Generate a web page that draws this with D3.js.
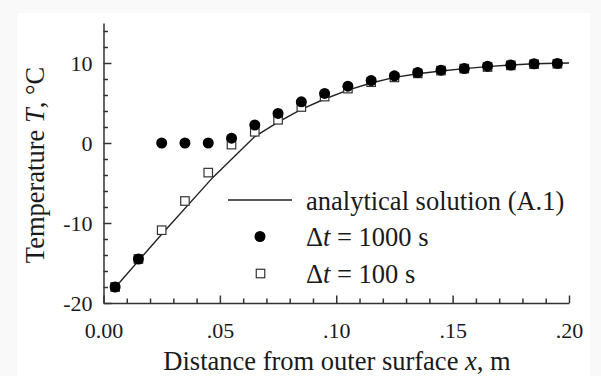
<!DOCTYPE html>
<html>
<head>
<meta charset="utf-8">
<script src="https://cdn.jsdelivr.net/npm/d3@7"></script>
<style>
  html, body { margin: 0; padding: 0; background: #f9f9f9; }
  svg { display: block; }
  text { font-family: "Liberation Serif", "Times New Roman", serif; fill: #1a1a1a; }
</style>
</head>
<body>
<svg id="chart"></svg>
<script>
// Sample positions (m)
const depths = [0.005, 0.015, 0.025, 0.035, 0.045, 0.055, 0.065, 0.075, 0.085, 0.095,
                0.105, 0.115, 0.125, 0.135, 0.145, 0.155, 0.165, 0.175, 0.185, 0.195];

// Δt = 1000 s (filled circles)
const temps1000 = [-18.0, -14.5, 0.0, 0.0, 0.0, 0.6, 2.25, 3.7, 5.15, 6.2,
                   7.1, 7.8, 8.4, 8.8, 9.1, 9.3, 9.6, 9.75, 9.9, 9.95];

// Δt = 100 s (open squares)
const temps100 = [-18.0, -14.5, -10.9, -7.25, -3.7, -0.2, 1.4, 2.9, 4.5, 5.8,
                  6.8, 7.6, 8.2, 8.7, 9.05, 9.3, 9.5, 9.7, 9.85, 9.9];

// analytical solution (A.1)
const analyticX = [0.004, 0.025, 0.047, 0.065, 0.075, 0.085, 0.095, 0.105, 0.115,
                   0.125, 0.135, 0.145, 0.155, 0.165, 0.175, 0.185, 0.2];
const analyticT = [-18.4, -11.4, -4.3, 0.8, 2.6, 4.2, 5.5, 6.6, 7.5,
                   8.2, 8.65, 9.0, 9.3, 9.55, 9.75, 9.9, 10.0];

// axis ticks
const xMajorTicks = [0, 0.05, 0.10, 0.15, 0.20];
const xTickLabels = ["0.00", ".05", ".10", ".15", ".20"];
const xMinorTicks = [0.01, 0.02, 0.03, 0.04, 0.06, 0.07, 0.08, 0.09, 0.11, 0.12,
                     0.13, 0.14, 0.16, 0.17, 0.18, 0.19];
const yMajorTicks = [-20, -10, 0, 10];
const yTickLabels = ["-20", "-10", "0", "10"];
const yMinorTicks = [-18, -16, -14, -12, -8, -6, -4, -2, 2, 4, 6, 8, 12, 14];

const legendLabels = ["analytical solution (A.1)", "Δt = 1000 s", "Δt = 100 s"];

const width = 601, height = 376;
const serif = '"Liberation Serif", "Times New Roman", serif';
const svg = d3.select("#chart").attr("width", width).attr("height", height);

// white paper area
svg.append("rect")
  .attr("x", 17).attr("y", 13)
  .attr("width", 573).attr("height", 363)
  .attr("fill", "#fff");

const xScale = d3.scaleLinear().domain([0, 0.2]).range([103.5, 569]);
const yScale = d3.scaleLinear().domain([-20, 15]).range([303, 23]);

const axisColor = "#333";

// minor ticks first
svg.append("g")
  .attr("transform", "translate(0," + yScale(-20) + ")")
  .call(d3.axisBottom(xScale).tickValues(xMinorTicks).tickSize(-4.5).tickFormat("").tickSizeOuter(0))
  .call(g => g.select(".domain").remove());

svg.append("g")
  .attr("transform", "translate(" + xScale(0) + ",0)")
  .call(d3.axisLeft(yScale).tickValues(yMinorTicks).tickSize(-4.5).tickFormat("").tickSizeOuter(0))
  .call(g => g.select(".domain").remove());

// major axes
const xAxis = svg.append("g")
  .attr("transform", "translate(0," + yScale(-20) + ")")
  .call(d3.axisBottom(xScale)
    .tickValues(xMajorTicks)
    .tickSize(-7.5)
    .tickSizeOuter(0)
    .tickPadding(19)
    .tickFormat((d, i) => xTickLabels[i]));

const yAxis = svg.append("g")
  .attr("transform", "translate(" + xScale(0) + ",0)")
  .call(d3.axisLeft(yScale)
    .tickValues(yMajorTicks)
    .tickSize(-8)
    .tickSizeOuter(0)
    .tickPadding(11)
    .tickFormat((d, i) => yTickLabels[i]));

svg.selectAll(".tick line, .domain")
  .attr("stroke", axisColor)
  .attr("stroke-width", 1.5);

[xAxis, yAxis].forEach(g => {
  g.attr("font-family", serif).attr("font-size", 22);
  g.selectAll("text")
    .style("font-family", serif)
    .style("font-size", "22px")
    .attr("fill", "#1a1a1a");
});

// axis titles
const xTitle = svg.append("text")
  .attr("x", 337).attr("y", 370)
  .attr("text-anchor", "middle")
  .style("font-size", "26.5px");
xTitle.append("tspan").text("Distance from outer surface ");
xTitle.append("tspan").style("font-style", "italic").text("x");
xTitle.append("tspan").text(", m");

const yTitle = svg.append("text")
  .attr("transform", "translate(44,165) rotate(-90)")
  .attr("text-anchor", "middle")
  .style("font-size", "26.5px");
yTitle.append("tspan").text("Temperature ");
yTitle.append("tspan").style("font-style", "italic").text("T");
yTitle.append("tspan").text(", °C");

// analytical line
const linePts = analyticX.map((x, i) => [x, analyticT[i]]);
svg.append("path")
  .datum(linePts)
  .attr("fill", "none")
  .attr("stroke", "#222")
  .attr("stroke-width", 1.4)
  .attr("d", d3.line().x(d => xScale(d[0])).y(d => yScale(d[1])));

// open squares (Δt = 100 s)
const sq = 8.5;
svg.append("g").selectAll("rect")
  .data(depths.map((x, i) => [x, temps100[i]]))
  .join("rect")
  .attr("x", d => xScale(d[0]) - sq / 2)
  .attr("y", d => yScale(d[1]) - sq / 2)
  .attr("width", sq).attr("height", sq)
  .attr("fill", "#fff")
  .attr("stroke", "#333")
  .attr("stroke-width", 1.2);

// filled circles (Δt = 1000 s)
svg.append("g").selectAll("circle")
  .data(depths.map((x, i) => [x, temps1000[i]]))
  .join("circle")
  .attr("cx", d => xScale(d[0]))
  .attr("cy", d => yScale(d[1]))
  .attr("r", 5.5)
  .attr("fill", "#000");

// legend
const legend = svg.append("g");
legend.append("line")
  .attr("x1", 228).attr("x2", 292)
  .attr("y1", 200).attr("y2", 200)
  .attr("stroke", "#222").attr("stroke-width", 1.4);
legend.append("circle")
  .attr("cx", 260).attr("cy", 236.5).attr("r", 5.5).attr("fill", "#000");
legend.append("rect")
  .attr("x", 260.5 - sq / 2).attr("y", 273.5 - sq / 2)
  .attr("width", sq).attr("height", sq)
  .attr("fill", "#fff").attr("stroke", "#333").attr("stroke-width", 1.2);

const legendY = [210, 246, 283];
legendLabels.forEach((label, i) => {
  const t = legend.append("text")
    .attr("x", 306).attr("y", legendY[i])
    .style("font-size", "26.5px");
  if (label.startsWith("Δt")) {
    t.append("tspan").text("Δ");
    t.append("tspan").style("font-style", "italic").text("t");
    t.append("tspan").text(label.slice(2));
  } else {
    t.text(label);
  }
});
</script>
</body>
</html>
